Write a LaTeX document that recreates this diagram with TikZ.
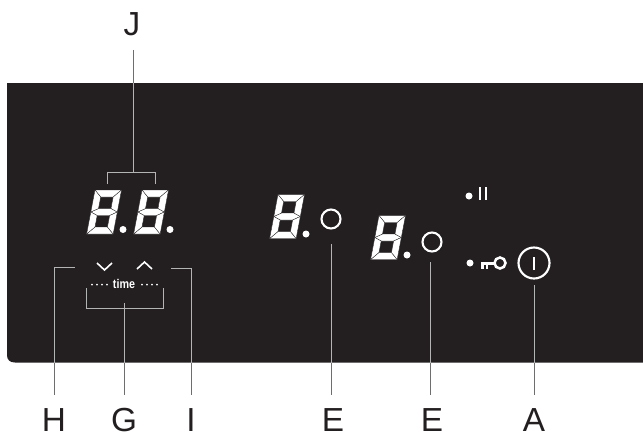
\documentclass[tikz,border=0pt]{standalone}
\usepackage{fontspec}
\setmainfont{Liberation Sans}
\usetikzlibrary{calc}
\definecolor{paneldark}{HTML}{231F20}
\definecolor{leadin}{HTML}{B4B4B4}
\definecolor{leadout}{HTML}{6E6E6E}
\tikzset{
    lab/.style={
        font=\fontsize{25}{30}\selectfont, color=paneldark, inner sep=0pt, text height=18pt, text depth=0pt, anchor=base
    },
    wireout/.style={color=leadout, line width=0.75pt},
    wirein/.style={color=leadin, line width=0.75pt},
    mark line/.style={color=white, line width=1.2pt},
    seg/.style={fill=white, draw=paneldark, line width=0.25pt},
    segdigit/.pic={
        \def\w{26.5}
        \def\t{7}
        \begin{scope}[xslant=0.19]
        % top, middle, bottom
        \filldraw[seg] (0,0) -- (\w,0) -- (\w-\t,\t) -- (\t,\t) -- cycle;
        \filldraw[seg] (0,22) -- (\t,18.5) -- (\w-\t,18.5) -- (\w,22) -- (\w-\t,25.5) -- (\t,25.5) -- cycle;
        \filldraw[seg] (0,44) -- (\w,44) -- (\w-\t,37) -- (\t,37) -- cycle;
        % sides
        \foreach \a/\b/\c/\d in {0/22/7/18.5, 22/44/25.5/37} {
          \filldraw[seg] (0,\a) -- (\t,\c) -- (\t,\d) -- (0,\b) -- cycle;
          \filldraw[seg] (\w,\a) -- (\w-\t,\c) -- (\w-\t,\d) -- (\w,\b) -- cycle;
        }
        \end{scope}
        \fill[white] (28,39.5) circle (3.5);
    }
}

\begin{document}
\begin{tikzpicture}[x=0.75pt,y=-0.75pt, line cap=butt, line join=miter]

\useasboundingbox (0,0) rectangle (643,433);

% panel
\fill[paneldark] (643,83) -- (7,83) -- (7,355) .. controls (7,360) and (10,362.5) .. (15,362.5) -- (643,362.5) -- cycle;

% labels
\node[lab] (labJ) at (132,35) {J};
\node[lab] (labH) at (54,431) {H};
\node[lab] (labG) at (124,431) {G};
\node[lab] (labI) at (191,431) {I};
\node[lab] (labEa) at (333,431) {E};
\node[lab] (labEb) at (432,431) {E};
\node[lab] (labA) at (534,431) {A};

% digits
\foreach \x/\y in {95/190, 142/190, 278/194.5, 379/215.5} {
  \pic at (\x,\y) {segdigit};
}

% J bracket
\coordinate (edgeJ) at (133,83);
\coordinate (topJ) at (133,172);
\draw[wireout, shorten <=11pt] (labJ.south -| edgeJ) -- (edgeJ);
\draw[wirein] (edgeJ) -- (topJ);
\draw[wirein] (107,184) -- (107,172) -- (155,172) -- (155,184);

% H, I, G
\coordinate (edgeH) at (54,362.5);
\coordinate (edgeG) at (124,362.5);
\coordinate (edgeI) at (191,362.5);
\coordinate (edgeEa) at (331,362.5);
\coordinate (edgeEb) at (430,362.5);
\coordinate (edgeA) at (534,362.5);
\draw[wireout, shorten <=9pt] (labH.north) -- (edgeH);
\draw[wirein] (edgeH) -- (54,267) -- (75,267);
\draw[wireout, shorten <=9pt] (labI.north) -- (edgeI);
\draw[wirein] (edgeI) -- (191,268) -- (171,268);
\draw[wireout, shorten <=9pt] (labG.north) -- (edgeG);
\draw[wirein] (edgeG) -- (124,303);
\draw[wirein] (86,288) -- (86,308) -- (163,308) -- (163,288);

% E, E, A
\draw[wireout, shorten <=9pt] (labEa.north -| edgeEa) -- (edgeEa);
\draw[wirein] (edgeEa) -- (331,244);
\draw[wireout, shorten <=9pt] (labEb.north -| edgeEb) -- (edgeEb);
\draw[wirein] (edgeEb) -- (430,262);
\draw[wireout, shorten <=9pt] (labA.north) -- (edgeA);
\draw[wirein] (edgeA) -- (534,285);

% time keys
\draw[mark line] (97,263) -- (104.5,270) -- (112,263);
\draw[mark line] (137,269) -- (144.5,262) -- (152,269);
\node[font=\bfseries\fontsize{9.5}{9.5}\selectfont, color=white, inner sep=0pt, xscale=0.85] (timeLabel) at (124,284) {time};
\foreach \x in {92,97,102,107,142,147,152,157} {
  \fill[white] (\x,284.5) circle (1);
}

% rings
\draw[white, line width=1.6pt] (331,219) circle (9.5);
\draw[white, line width=1.6pt] (432,242) circle (9.5);
\draw[white, line width=1.6pt] (534,263) circle (15.5);
\draw[white, line width=1.5pt] (534,257) -- (534,270);

% pause
\fill[white] (469,196) circle (3.5);
\fill[white] (478.5,187) rectangle (480.5,200);
\fill[white] (485,187) rectangle (487,200);

% key
\fill[white] (470,263) circle (3.5);
\draw[white, line width=1.9pt] (500,263) circle (5.5);
\fill[white] (481,262) rectangle (495,265);
\fill[white] (481,262) rectangle (483.5,269);
\fill[white] (485.5,262) rectangle (488,269);

\end{tikzpicture}
\end{document}
